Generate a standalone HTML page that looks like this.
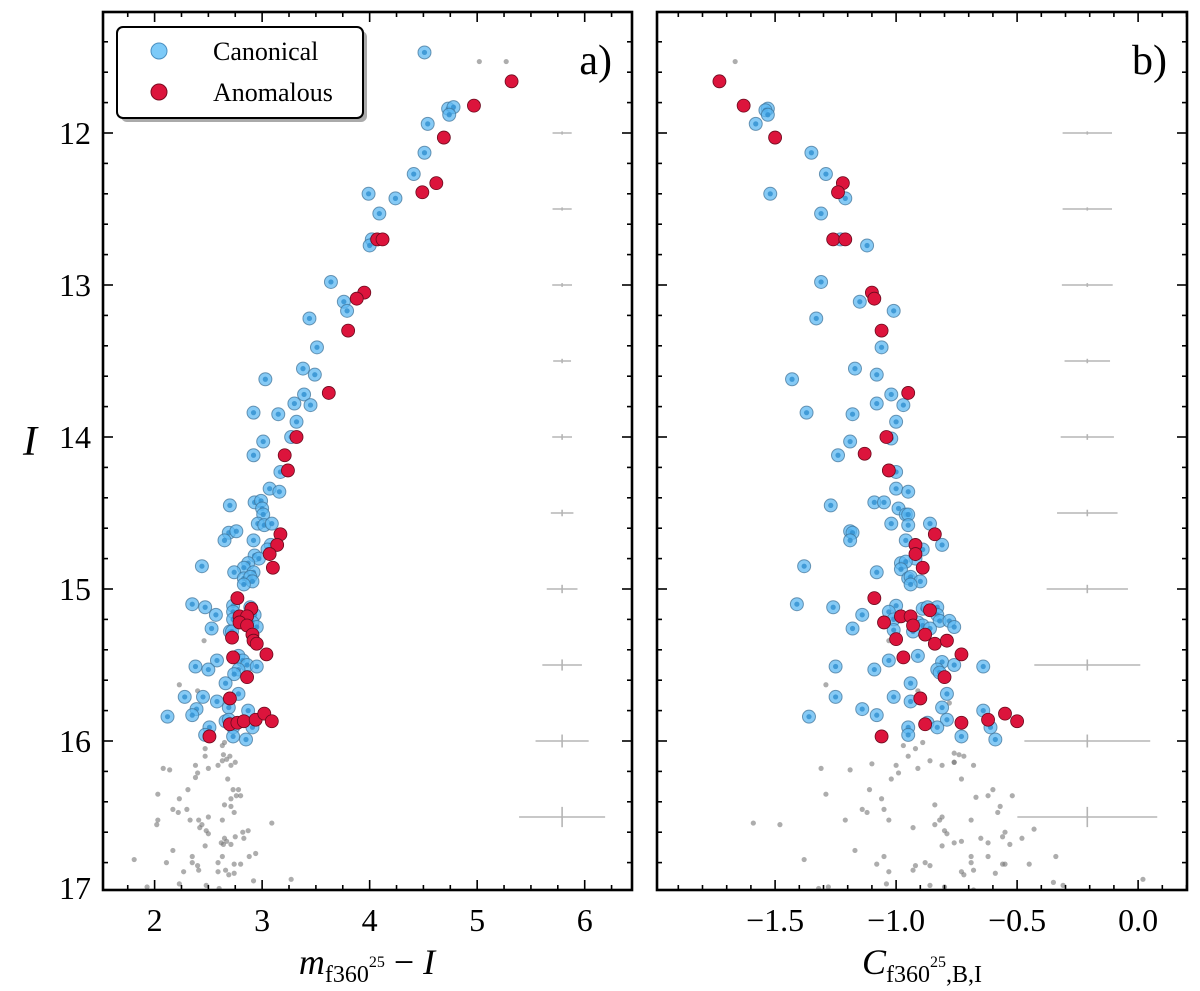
<!DOCTYPE html>
<html><head><meta charset="utf-8"><style>
html,body{margin:0;padding:0;background:#fff;}
svg{display:block;font-family:"Liberation Serif","DejaVu Serif",serif;}
</style></head><body>
<svg id="fig" width="1200" height="991" viewBox="0 0 1200 991" xmlns="http://www.w3.org/2000/svg">
<rect x="0" y="0" width="1200" height="991" fill="#fff"/>
<g id="panelA"></g>
<g id="panelB"></g>
<text x="30" y="455" font-size="42" font-style="italic" text-anchor="middle">I</text>
<text x="367" y="974" font-size="36" text-anchor="middle"><tspan font-style="italic">m</tspan><tspan font-size="24" dy="8">f360</tspan><tspan font-size="16" dy="-15">25</tspan><tspan dy="7"> − </tspan><tspan font-style="italic">I</tspan></text>
<text x="922" y="974" font-size="36" text-anchor="middle"><tspan font-style="italic">C</tspan><tspan font-size="24" dy="8">f360</tspan><tspan font-size="16" dy="-15">25</tspan><tspan font-size="24" dy="15">,B,I</tspan></text>
<text x="612" y="74" font-size="42" text-anchor="end">a)</text>
<text x="1167" y="74" font-size="42" text-anchor="end">b)</text>
<g>
<rect x="121" y="31" width="246" height="91" rx="6" fill="#aaa"/>
<rect x="117" y="27" width="246" height="91" rx="6" fill="#fff" stroke="#000" stroke-width="2"/>
<circle cx="159" cy="51" r="8" fill="#7dcaf8" stroke="#4a8fc0" stroke-width="1"/>
<text x="213" y="60" font-size="26">Canonical</text>
<circle cx="159" cy="92" r="8" fill="#dc143c" stroke="#7a0a20" stroke-width="1"/>
<text x="213" y="101" font-size="26">Anomalous</text>
</g>
</svg>
<script>
// ---- Panel a data (colour m_f360 - I vs I) ----
const canonA_x=[4.51,4.73,4.78,4.74,4.54,4.51,4.41,3.99,4.24,4.09,4.02,4.00,3.64,3.76,3.79,3.44,3.51,3.38,3.49,3.03,3.39,3.30,3.45,2.92,3.15,3.32,3.01,3.27,2.92,3.17,3.07,3.16,2.70,2.93,2.99,3.00,3.01,2.96,3.02,3.09,2.69,2.76,2.65,2.92,3.08,3.05,2.93,2.97,2.87,2.83,2.44,2.74,2.92,2.83,2.89,2.91,2.83,2.35,2.47,2.73,2.89,2.57,2.73,2.93,2.73,2.91,2.95,2.53,2.70,2.72,2.78,2.82,2.86,2.95,2.38,2.58,2.50,2.78,2.74,2.66,2.78,2.28,2.45,2.58,2.69,2.39,2.87,2.12,2.35,2.66,2.69,2.91,2.73,2.51,2.47,2.73,2.85];
const canonA_y=[11.47,11.84,11.83,11.88,11.94,12.13,12.27,12.40,12.43,12.53,12.70,12.74,12.98,13.11,13.17,13.22,13.41,13.55,13.59,13.62,13.72,13.78,13.79,13.84,13.85,13.90,14.03,14.00,14.12,14.23,14.34,14.36,14.45,14.43,14.42,14.47,14.51,14.57,14.58,14.57,14.63,14.62,14.68,14.68,14.71,14.74,14.78,14.80,14.83,14.86,14.85,14.89,14.89,14.93,14.92,14.95,14.97,15.10,15.12,15.11,15.12,15.17,15.15,15.17,15.20,15.22,15.25,15.26,15.28,15.28,15.44,15.47,15.50,15.51,15.51,15.47,15.53,15.53,15.56,15.62,15.69,15.71,15.71,15.74,15.78,15.79,15.80,15.84,15.83,15.87,15.86,15.91,15.91,15.91,15.96,15.97,15.99];
const anomA_x=[5.32,4.97,4.69,4.62,4.49,4.07,4.12,3.95,3.88,3.80,3.62,3.32,3.21,3.24,3.17,3.14,3.07,3.10,2.77,2.90,2.79,2.86,2.79,2.86,2.91,2.72,2.92,2.95,3.04,2.73,2.86,2.70,2.70,2.77,2.83,2.94,3.02,3.09,2.51];
const anomA_y=[11.66,11.82,12.03,12.33,12.39,12.70,12.70,13.05,13.09,13.30,13.71,14.00,14.12,14.22,14.64,14.71,14.77,14.86,15.06,15.13,15.18,15.18,15.22,15.24,15.30,15.32,15.34,15.36,15.43,15.45,15.58,15.72,15.89,15.88,15.87,15.86,15.82,15.87,15.97];
const grayA_x=[5.02,5.27,2.46,2.23,2.40,2.65,2.63,2.47,2.47,2.64,2.70,2.63,2.67,2.75,2.71,2.59,2.50,2.38,2.08,2.14,2.40,2.38,2.68,2.31,2.03,2.73,2.78,2.76,2.80,2.71,2.23,2.65,2.71,2.74,2.30,2.17,2.22,2.03,2.02,2.33,2.41,2.50,2.63,2.44,2.42,2.48,2.50,3.09,2.87,2.82,2.83,2.75,2.65,2.67,2.62,2.71,2.64,2.47,2.17,2.35,2.94,2.88,1.81,2.11,2.35,2.40,2.59,2.63,2.74,2.80,2.66,2.59,2.41,2.27,2.74,2.69,2.23,1.93,2.48,2.60,2.92,3.27];
const grayA_y=[11.53,11.53,15.34,15.63,15.67,16.01,16.03,16.05,16.10,16.09,16.10,16.13,16.12,16.14,16.16,16.16,16.18,16.16,16.18,16.19,16.21,16.24,16.25,16.32,16.35,16.32,16.32,16.36,16.36,16.38,16.38,16.42,16.43,16.47,16.45,16.45,16.47,16.52,16.55,16.52,16.52,16.50,16.52,16.55,16.57,16.59,16.61,16.54,16.59,16.60,16.64,16.63,16.64,16.66,16.67,16.68,16.68,16.69,16.72,16.76,16.74,16.76,16.78,16.80,16.80,16.82,16.80,16.76,16.81,16.81,16.85,16.86,16.85,16.86,16.87,16.88,16.94,16.96,16.95,16.97,16.92,16.91];
// ---- Panel b data (C index vs I) ----
const canonB_x=[-1.53,-1.54,-1.53,-1.58,-1.35,-1.29,-1.21,-1.52,-1.31,-1.23,-1.12,-1.31,-1.15,-1.01,-1.33,-1.06,-1.17,-1.43,-1.08,-1.02,-1.08,-0.97,-1.37,-1.18,-1.00,-1.19,-1.02,-1.24,-1.00,-1.00,-0.95,-1.27,-1.09,-1.05,-0.99,-0.96,-0.95,-1.02,-0.95,-0.86,-1.19,-1.18,-1.19,-0.96,-0.81,-0.89,-0.92,-0.98,-0.96,-0.98,-1.38,-1.08,-0.95,-0.94,-0.90,-0.94,-1.41,-1.26,-1.00,-1.03,-0.89,-0.87,-0.83,-0.83,-1.14,-1.01,-0.82,-0.78,-0.76,-0.91,-0.89,-0.86,-1.18,-1.01,-0.93,-0.91,-1.03,-0.81,-0.76,-0.64,-1.25,-1.09,-0.83,-0.82,-0.94,-1.25,-1.01,-0.94,-0.79,-0.81,-1.14,-0.64,-1.36,-1.08,-0.87,-0.79,-0.83,-0.61,-0.95,-0.95,-0.73,-0.59];
const canonB_y=[11.84,11.85,11.88,11.94,12.13,12.27,12.43,12.40,12.53,12.70,12.74,12.98,13.11,13.17,13.22,13.41,13.55,13.62,13.59,13.72,13.78,13.79,13.84,13.85,13.90,14.03,14.01,14.12,14.23,14.34,14.36,14.45,14.43,14.43,14.47,14.51,14.51,14.57,14.58,14.57,14.62,14.63,14.68,14.68,14.71,14.74,14.80,14.83,14.82,14.87,14.85,14.89,14.93,14.92,14.95,14.97,15.10,15.12,15.11,15.15,15.13,15.12,15.12,15.17,15.17,15.20,15.21,15.21,15.25,15.22,15.24,15.26,15.26,15.27,15.28,15.44,15.47,15.48,15.50,15.51,15.51,15.53,15.53,15.55,15.62,15.71,15.71,15.74,15.69,15.78,15.79,15.80,15.84,15.83,15.88,15.86,15.91,15.91,15.91,15.96,15.97,15.99];
const anomB_x=[-1.73,-1.63,-1.50,-1.22,-1.24,-1.26,-1.21,-1.10,-1.09,-1.06,-0.95,-1.04,-1.13,-1.03,-0.84,-0.92,-0.92,-0.89,-1.09,-0.86,-0.98,-0.94,-1.05,-0.93,-1.00,-0.88,-0.84,-0.79,-0.73,-0.97,-0.80,-0.90,-0.62,-0.55,-0.50,-0.88,-0.73,-1.06];
const anomB_y=[11.66,11.82,12.03,12.33,12.39,12.70,12.70,13.05,13.09,13.30,13.71,14.00,14.11,14.22,14.64,14.71,14.77,14.86,15.06,15.14,15.18,15.18,15.22,15.24,15.33,15.30,15.36,15.34,15.43,15.45,15.58,15.72,15.86,15.82,15.87,15.89,15.88,15.97];
const grayB_x=[-1.665,-1.03,-1.29,-0.91,-0.78,-0.97,-0.92,-0.89,-0.95,-0.76,-0.74,-0.72,-0.76,-0.76,-0.81,-0.68,-0.86,-0.91,-1.00,-1.10,-1.31,-1.19,-0.99,-1.02,-0.73,-0.60,-0.62,-0.52,-0.67,-1.29,-1.11,-1.06,-0.84,-0.57,-0.58,-1.14,-1.12,-1.05,-1.48,-1.21,-1.03,-0.81,-0.82,-0.69,-0.84,-0.80,-0.79,-0.93,-0.55,-0.43,-0.48,-0.56,-0.65,-0.62,-0.53,-0.73,-0.76,-0.81,-1.17,-1.38,-1.05,-0.69,-0.62,-0.34,-0.88,-0.86,-1.08,-0.92,-0.69,-0.56,-0.55,-0.45,-1.03,-0.93,-0.73,-0.72,-0.68,-0.59,-1.04,-1.28,-0.80,-0.35,-0.31,0.02,-1.32,-0.86,-0.68,-1.59];
const grayB_y=[11.53,15.34,15.63,15.67,15.75,16.03,16.05,16.01,16.10,16.08,16.09,16.10,16.14,16.14,16.16,16.16,16.13,16.18,16.16,16.15,16.18,16.19,16.21,16.25,16.25,16.32,16.36,16.36,16.37,16.35,16.32,16.38,16.42,16.43,16.47,16.45,16.47,16.45,16.55,16.52,16.52,16.50,16.52,16.52,16.55,16.59,16.61,16.57,16.60,16.58,16.64,16.63,16.64,16.67,16.68,16.66,16.67,16.69,16.72,16.78,16.76,16.76,16.76,16.76,16.80,16.82,16.81,16.82,16.80,16.81,16.81,16.81,16.86,16.85,16.86,16.88,16.85,16.87,16.94,16.96,16.96,16.93,16.95,16.91,16.97,16.95,16.98,16.54];
// ---- error bars (typical uncertainties per magnitude bin) ----
const errMag=[12,12.5,13,13.5,14,14.5,15,15.5,16,16.5];
const errA_x=[0.089,0.089,0.092,0.083,0.092,0.105,0.143,0.184,0.247,0.40];
const errB_x=[0.102,0.102,0.105,0.094,0.110,0.125,0.168,0.219,0.260,0.289];
const errI=[0.004,0.004,0.006,0.008,0.012,0.015,0.021,0.030,0.036,0.060];
const errA_center=5.79, errB_center=-0.21;
const ticksA_x=[2,3,4,5,6], ticksB_x=[-1.5,-1.0,-0.5,0.0], ticksY=[12,13,14,15,16,17];
const tickLabA_x=["2","3","4","5","6"], tickLabB_x=["−1.5","−1.0","−0.5","0.0"], tickLabY=["12","13","14","15","16","17"];

const NS="http://www.w3.org/2000/svg";
function yS(v){return 133+(v-12)*152;}
function mk(tag,attrs,parent){const e=document.createElementNS(NS,tag);for(const k in attrs)e.setAttribute(k,attrs[k]);parent.appendChild(e);return e;}

function panel(g,L,R,xmin,xmax,xt,xtl,minorStep,canX,canY,anX,anY,grX,grY,errC,errX,yLabels){
  const xS=v=>L+(v-xmin)/(xmax-xmin)*(R-L);
  const top=12,bot=890;
  const clipId='clip'+L;
  const defs=mk('defs',{},g);
  const cp=mk('clipPath',{id:clipId},defs);
  mk('rect',{x:L,y:top,width:R-L,height:bot-top},cp);
  const pg=mk('g',{'clip-path':'url(#'+clipId+')'},g);
  for(let i=0;i<errMag.length;i++){
    const cx=xS(errC), cy=yS(errMag[i]);
    const eg=mk('g',{},pg);
    
    
    mk('line',{x1:xS(errC-errX[i]),x2:xS(errC+errX[i]),y1:cy,y2:cy,stroke:'#b5b5b5','stroke-width':1.6},eg);
    mk('line',{x1:cx,x2:cx,y1:yS(errMag[i]-errI[i])-1,y2:yS(errMag[i]+errI[i])+1,stroke:'#b5b5b5','stroke-width':1.6},eg);
  }
  for(let i=0;i<grX.length;i++){
    const c=mk('circle',{cx:xS(grX[i]),cy:yS(grY[i]),r:2.6,fill:'#777','fill-opacity':0.6},pg);
    
    
  }
  for(let i=0;i<canX.length;i++){
    const c=mk('circle',{cx:xS(canX[i]),cy:yS(canY[i]),r:6.5,fill:'#5db8f2','fill-opacity':0.75,stroke:'#3b6f95','stroke-opacity':0.7,'stroke-width':1},pg);
    
    
    mk('circle',{cx:xS(canX[i]),cy:yS(canY[i]),r:2.6,fill:'#2f8fd0','fill-opacity':0.8},pg);
  }
  for(let i=0;i<anX.length;i++){
    const c=mk('circle',{cx:xS(anX[i]),cy:yS(anY[i]),r:6.5,fill:'#dc143c',stroke:'#6a0a1e','stroke-width':0.8},pg);
    
    
  }
  const fr=mk('rect',{x:L,y:top,width:R-L,height:bot-top,fill:'none',stroke:'#000','stroke-width':2.6},g);
  
  
  const xa=mk('g',{},g);
  
  
  const first=Math.ceil(xmin/minorStep-1e-9);
  for(let k=first;k*minorStep<=xmax;k++){
    const v=k*minorStep, x=xS(v);
    const major=xt.some(t=>Math.abs(t-v)<1e-6);
    const len=major?10:5;
    mk('line',{x1:x,x2:x,y1:bot,y2:bot-len,stroke:'#000','stroke-width':1.6},xa);
    mk('line',{x1:x,x2:x,y1:top,y2:top+len,stroke:'#000','stroke-width':1.6},xa);
  }
  for(let i=0;i<xt.length;i++){
    const t=mk('text',{x:xS(xt[i]),y:931,'font-size':32,'text-anchor':'middle'},xa);
    t.textContent=xtl[i];
  }
  const ya=mk('g',{},g);
  
  
  for(let k=56;k<=85;k++){
    const v=k*0.2, y=yS(v);
    if(y<top||y>bot+1)continue;
    const major=Math.abs(v-Math.round(v))<1e-6;
    const len=major?10:5;
    mk('line',{x1:L,x2:L+len,y1:y,y2:y,stroke:'#000','stroke-width':1.6},ya);
    mk('line',{x1:R,x2:R-len,y1:y,y2:y,stroke:'#000','stroke-width':1.6},ya);
  }
  if(yLabels){
    for(let i=0;i<ticksY.length;i++){
      const t=mk('text',{x:L-12,y:Math.min(yS(ticksY[i])+11,899),'font-size':32,'text-anchor':'end'},ya);
      t.textContent=tickLabY[i];
    }
  }
}
panel(document.getElementById('panelA'),103,632,1.52,6.44,ticksA_x,tickLabA_x,0.25,canonA_x,canonA_y,anomA_x,anomA_y,grayA_x,grayA_y,errA_center,errA_x,true);
panel(document.getElementById('panelB'),657,1187,-1.988,0.202,ticksB_x,tickLabB_x,0.1,canonB_x,canonB_y,anomB_x,anomB_y,grayB_x,grayB_y,errB_center,errB_x,false);
</script>
</body></html>
